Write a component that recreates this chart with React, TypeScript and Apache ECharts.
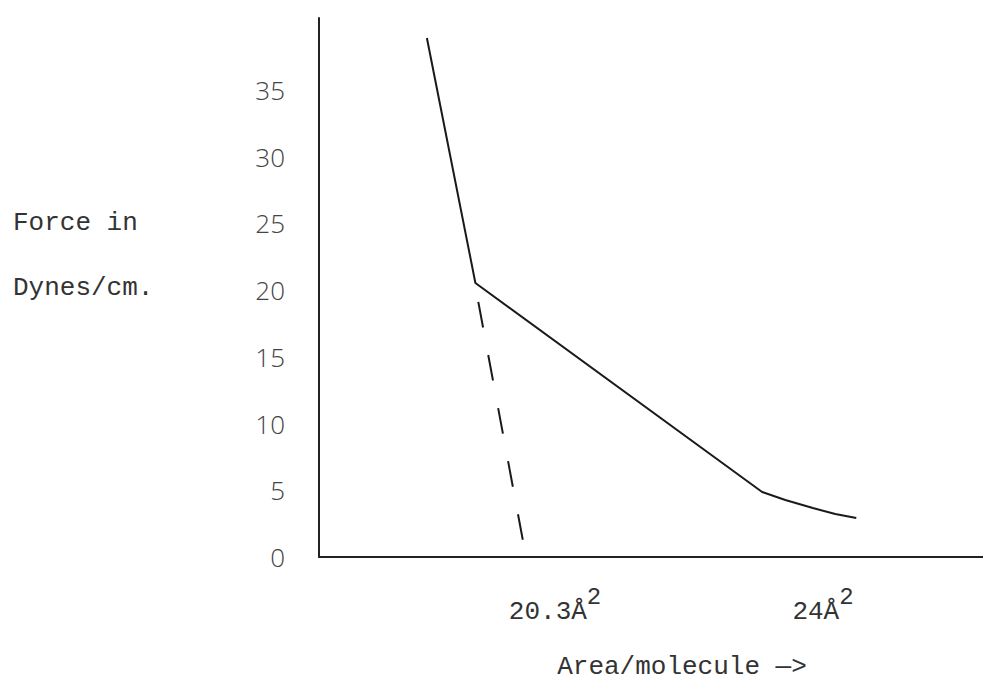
import React, { useEffect, useRef } from "react";
import * as echarts from "echarts";

// Pressure–area isotherm
const isothermArea = [18.53, 19.2, 23.16, 23.48, 23.86, 24.17, 24.46];
const isothermForce = [38.9, 20.54, 4.87, 4.27, 3.67, 3.22, 2.92];

// Extrapolation of the steep part down to the x axis
const extrapArea = [19.24, 19.86];
const extrapForce = [19.12, 1.12];

const yTickValues = [0, 5, 10, 15, 20, 25, 30, 35];
const xTickValues = [20.3, 24];
const xTickTexts = ["20.3Å", "24Å"];

const X_MIN = 17.04;
const X_MAX = 26.21;
const Y_MAX = 40.4;

const MONO = "'Liberation Mono', 'DejaVu Sans Mono', monospace";
const SANS = "'Open Sans', 'Liberation Sans', sans-serif";

export default function App() {
  const ref = useRef<HTMLDivElement>(null);

  useEffect(() => {
    if (!ref.current) return;
    const chart = echarts.init(ref.current, undefined, { renderer: "svg" });
    const toPairs = (xs: number[], ys: number[]) => xs.map((x, i) => [x, ys[i]]);

    chart.setOption({
      animation: false,
      backgroundColor: "#ffffff",
      grid: { left: 319, right: 0, top: 18, bottom: 133 },
      xAxis: {
        type: "value",
        min: X_MIN,
        max: X_MAX,
        splitLine: { show: false },
        axisTick: { show: false },
        axisLine: { show: true, lineStyle: { color: "#222", width: 2 } },
        axisLabel: {
          customValues: xTickValues,
          margin: 28,
          formatter: (v: number) => {
            const i = xTickValues.findIndex((t) => Math.abs(t - v) < 1e-6);
            return i < 0 ? "" : `{a|${xTickTexts[i]}}{s|2}`;
          },
          rich: {
            a: { fontFamily: MONO, fontSize: 26, color: "#333", lineHeight: 40, verticalAlign: "bottom" },
            s: { fontFamily: MONO, fontSize: 24, color: "#333", lineHeight: 20, verticalAlign: "top" },
          },
        },
        name: "Area/molecule —>",
        nameLocation: "middle",
        nameGap: 97,
        nameTextStyle: {
          fontFamily: MONO,
          fontSize: 26,
          color: "#333",
          padding: [0, 0, 0, 62],
        },
      },
      yAxis: {
        type: "value",
        min: 0,
        max: Y_MAX,
        splitLine: { show: false },
        axisTick: { show: false },
        axisLine: { show: true, lineStyle: { color: "#222", width: 2 } },
        axisLabel: {
          customValues: yTickValues,
          margin: 34,
          fontFamily: SANS,
          fontWeight: 300,
          fontSize: 26,
          color: "#444",
        },
        name: "Force in\nDynes/cm.\n ",
        nameLocation: "middle",
        nameRotate: 0,
        nameGap: 306,
        nameTextStyle: {
          fontFamily: MONO,
          fontSize: 26,
          color: "#333",
          align: "left",
          lineHeight: 65,
        },
      },
      series: [
        {
          type: "line",
          data: toPairs(isothermArea, isothermForce),
          showSymbol: false,
          lineStyle: { color: "#1a1a1a", width: 2 },
        },
        {
          type: "line",
          data: toPairs(extrapArea, extrapForce),
          showSymbol: false,
          lineStyle: { color: "#1a1a1a", width: 2, type: [26, 28] },
        },
      ],
    });

    return () => chart.dispose();
  }, []);

  return (
    <div
      ref={ref}
      style={{ position: "fixed", left: 0, top: 0, width: 983, height: 690 }}
    />
  );
}
